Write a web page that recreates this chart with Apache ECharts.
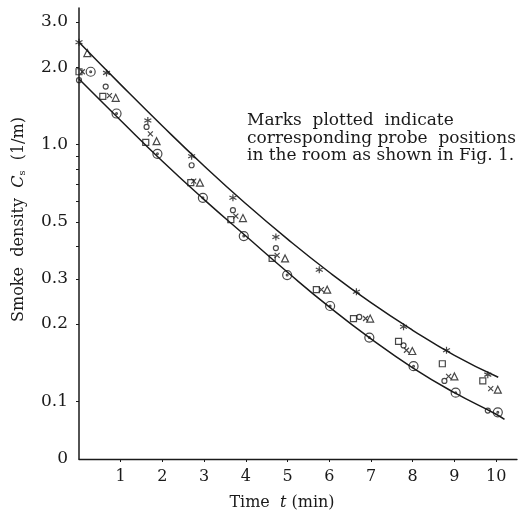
<!DOCTYPE html>
<html>
<head>
<meta charset="utf-8">
<script src="https://cdn.jsdelivr.net/npm/echarts@6/dist/echarts.min.js"></script>
<style>
  html, body { margin: 0; padding: 0; background: #fff; }
  #main { width: 521px; height: 516px; }
</style>
</head>
<body>
<div id="main"></div>
<script>
// smoke density decay, log scale

var curveTimes = [0, 1, 2, 3, 4, 5, 6, 7, 8, 9, 10.05];
var upperCurve = [2.5, 1.71, 1.18, 0.825, 0.588, 0.428, 0.318, 0.242, 0.189, 0.151, 0.124];
var lowerTimes = [0, 1, 2, 3, 4, 5, 6, 7, 8, 9, 10, 10.2];
var lowerCurve = [1.8, 1.24, 0.86, 0.61, 0.44, 0.318, 0.233, 0.175, 0.135, 0.108, 0.089, 0.085];

// measured points, [t, Cs], one list per probe mark
var starPts = [[0, 2.5], [0.66, 1.9], [1.65, 1.24], [2.7, 0.9], [3.69, 0.62], [4.72, 0.436],
  [5.76, 0.325], [6.65, 0.267], [7.78, 0.195], [8.81, 0.158], [9.8, 0.127]];
var smallCirclePts = [[0, 1.78], [0.64, 1.68], [1.62, 1.17], [2.7, 0.83], [3.69, 0.555],
  [4.72, 0.395], [6.72, 0.213], [7.78, 0.165], [8.76, 0.12], [9.8, 0.092]];
var squarePts = [[0, 1.92], [0.57, 1.54], [1.6, 1.02], [2.68, 0.71], [3.64, 0.51], [4.63, 0.36],
  [5.69, 0.272], [6.58, 0.21], [7.66, 0.171], [8.71, 0.14], [9.68, 0.12]];
var crossPts = [[0.08, 1.92], [0.73, 1.55], [1.71, 1.1], [2.75, 0.72], [3.76, 0.526], [4.75, 0.37],
  [5.81, 0.272], [6.87, 0.21], [7.85, 0.158], [8.86, 0.125], [9.87, 0.112]];
var trianglePts = [[0.2, 2.27], [0.88, 1.52], [1.86, 1.03], [2.9, 0.71], [3.93, 0.517], [4.94, 0.36],
  [5.95, 0.272], [6.98, 0.21], [7.99, 0.157], [9.0, 0.125], [10.04, 0.111]];
var dotCirclePts = [[0.28, 1.92], [0.9, 1.32], [1.88, 0.92], [2.97, 0.62], [3.95, 0.44], [4.99, 0.31],
  [6.02, 0.235], [6.96, 0.177], [8.02, 0.137], [9.03, 0.108], [10.04, 0.0906]];

var xTicks = [1, 2, 3, 4, 5, 6, 7, 8, 9, 10];
var yLabels = [0.0596, 0.1, 0.2, 0.3, 0.5, 1, 2, 3];
var yTicks = [0.1, 0.2, 0.3, 0.4, 0.5, 0.6, 0.7, 0.8, 0.9, 1, 2, 3];

var note = 'Marks  plotted  indicate\ncorresponding probe  positions\nin the room as shown in Fig. 1.';

var symStar = 'path://M5,0L5,10M0.7,2.5L9.3,7.5M0.7,7.5L9.3,2.5';
var symCross = 'path://M0,0L10,10M0,10L10,0';
var symDotCircle = 'path://M10,5A5,5,0,1,1,0,5A5,5,0,1,1,10,5ZM5,4A1,1,0,1,1,5,6A1,1,0,1,1,5,4Z';

var serif = '"DejaVu Serif", "Liberation Serif", serif';
var ink = '#1a1a1a';

var chartDom = document.getElementById('main');
var myChart = echarts.init(chartDom);
var option;

function marks(data, symbol, size) {
  return {
    type: 'scatter',
    data: data,
    symbol: symbol,
    symbolSize: size,
    clip: false,
    itemStyle: { color: 'rgba(0,0,0,0)', borderColor: ink, borderWidth: 1.2 },
    z: 3
  };
}

option = {
  animation: false,
  backgroundColor: '#fff',
  textStyle: { fontFamily: serif },
  grid: { left: 79, right: 4, top: 8, bottom: 55 },
  xAxis: {
    type: 'value',
    min: 0,
    max: 10.5,
    name: 'Time  {i|t} (min)',
    nameLocation: 'middle',
    nameGap: 36,
    nameTextStyle: {
      fontFamily: serif, fontSize: 16, color: ink, padding: [0, 32, 0, 0],
      rich: { i: { fontFamily: serif, fontStyle: 'italic', fontSize: 16, color: ink } }
    },
    axisLine: { show: true, lineStyle: { color: ink, width: 1.3 } },
    axisTick: { show: true, length: 3, customValues: xTicks, lineStyle: { color: ink } },
    axisLabel: { customValues: xTicks, fontFamily: serif, fontSize: 16, color: ink, margin: 10 },
    splitLine: { show: false }
  },
  yAxis: {
    type: 'log',
    logBase: 10,
    min: 0.0596,
    max: 3.4,
    name: 'Smoke  density  {i|C}{s|s}  (1/m)',
    nameLocation: 'middle',
    nameRotate: 90,
    nameGap: 52,
    nameTextStyle: {
      fontFamily: serif, fontSize: 16, color: ink, padding: [0, 0, 0, 28],
      rich: {
        i: { fontFamily: serif, fontStyle: 'italic', fontSize: 16, color: ink },
        s: { fontFamily: serif, fontSize: 10, color: ink, padding: [7, 0, 0, 0] }
      }
    },
    axisLine: { show: true, lineStyle: { color: ink, width: 1.5 } },
    axisTick: { show: true, length: 3, customValues: yTicks, lineStyle: { color: ink } },
    axisLabel: {
      customValues: yLabels,
      fontFamily: serif,
      fontSize: 17,
      color: ink,
      margin: 11,
      formatter: function (v) {
        return v < 0.08 ? '0' : v.toFixed(1);
      }
    },
    splitLine: { show: false }
  },
  graphic: [
    {
      type: 'text',
      left: 247,
      top: 112,
      style: { text: note, font: '17px ' + serif, fill: ink, lineHeight: 17.5 }
    }
  ],
  series: [
    {
      type: 'line',
      data: curveTimes.map(function (t, i) { return [t, upperCurve[i]]; }),
      smooth: 0.5,
      showSymbol: false,
      lineStyle: { color: ink, width: 1.5 }
    },
    {
      type: 'line',
      data: lowerTimes.map(function (t, i) { return [t, lowerCurve[i]]; }),
      smooth: 0.5,
      showSymbol: false,
      lineStyle: { color: ink, width: 1.5 }
    },
    marks(starPts, symStar, 7),
    marks(smallCirclePts, 'circle', 5),
    marks(squarePts, 'rect', 6),
    marks(crossPts, symCross, 5),
    marks(trianglePts, 'triangle', 7),
    marks(dotCirclePts, symDotCircle, 9)
  ]
};

option && myChart.setOption(option);
</script>
</body>
</html>
